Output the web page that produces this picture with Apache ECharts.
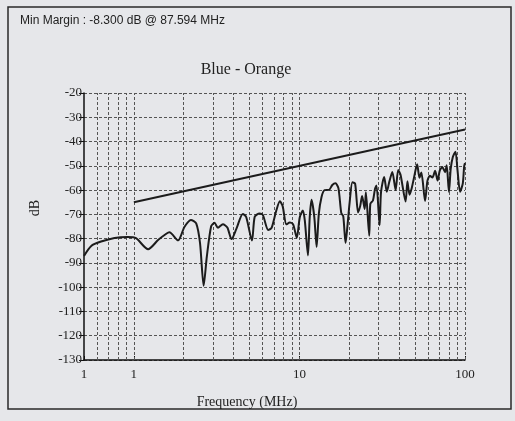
<!DOCTYPE html>
<html>
<head>
<meta charset="utf-8">
<script src="https://cdn.jsdelivr.net/npm/echarts@6/dist/echarts.min.js"></script>
<style>
html,body{margin:0;padding:0;background:#e6e7ea;}
#c{width:515px;height:421px;}
</style>
</head>
<body>
<div id="c"></div>
<script>
// Measured trace (Blue - Orange), frequency in MHz and level in dB
var freqMHz = [0.5, 0.553, 0.634, 0.764, 0.92, 1.03, 1.22, 1.40, 1.57, 1.64,
  1.85, 2.02, 2.21, 2.38, 2.51, 2.64, 2.76, 2.93, 3.07, 3.22,
  3.45, 3.67, 3.89, 4.16, 4.55, 4.77, 5.17, 5.37, 5.74, 6.01,
  6.48, 6.79, 7.23, 7.62, 7.92, 8.34, 8.75, 9.16, 9.64, 10.05,
  10.49, 10.78, 11.26, 11.54, 11.84, 12.3, 12.7, 13.1, 13.6, 14.2,
  15.1, 15.8, 16.5, 17.2, 17.9, 18.4, 19.0, 19.5, 20.1, 20.9,
  21.7, 22.6, 23.3, 23.9, 24.8, 25.2, 26.4, 26.8, 27.8, 28.6,
  29.2, 30.5, 31.1, 32.5, 33.7, 34.9, 36.4, 38.1, 39.5, 40.8,
  43.8, 44.9, 46.2, 47.7, 49.2, 51.4, 53.1, 54.5, 57.4, 59.3,
  61.3, 63.6, 66.0, 68.3, 70.4, 72.9, 75.8, 77.5, 80.0, 82.0,
  84.5, 87.6, 90.1, 93.4, 97.0, 98.8, 100];
var levelDB = [-87.1, -83.0, -81.2, -79.7, -79.3, -79.8, -84.4, -80.6, -78.0, -77.4,
  -80.7, -75.2, -72.3, -73.7, -81.8, -99.4, -87.3, -74.9, -73.5, -75.5,
  -74.1, -75.4, -80.2, -76.0, -69.8, -71.1, -80.8, -71.0, -69.6, -70.2,
  -76.4, -75.6, -68.7, -64.6, -66.6, -74.1, -73.4, -74.1, -79.6, -71.2,
  -68.4, -72.6, -86.9, -71.2, -64.0, -71.1, -83.4, -69.7, -62.8, -60.0,
  -59.9, -57.9, -57.2, -59.2, -69.5, -70.8, -81.8, -74.8, -65.2, -56.8,
  -57.4, -69.2, -66.5, -62.4, -67.8, -60.9, -78.8, -65.7, -64.3, -59.5,
  -58.1, -74.5, -60.8, -54.6, -60.7, -56.6, -52.5, -60.0, -51.7, -53.7,
  -64.7, -56.4, -61.9, -59.1, -54.9, -49.4, -54.9, -52.8, -64.5, -56.2,
  -54.1, -54.8, -52.0, -56.1, -52.0, -50.5, -52.6, -49.8, -60.8, -51.2,
  -46.3, -44.2, -51.8, -60.7, -57.2, -50.3, -48.9];
// Limit line
var limitFreqMHz = [1, 100];
var limitDB = [-65, -35];
// Vertical grid positions (MHz)
var gridFreqs = [0.6, 0.7, 0.8, 0.9, 1, 2, 3, 4, 5, 6, 7, 8, 9, 10,
  20, 30, 40, 50, 60, 70, 80, 90, 100];
var titleText = 'Blue - Orange';
var marginText = 'Min Margin : -8.300 dB @ 87.594 MHz';
var xName = 'Frequency (MHz)';
var yName = 'dB';

var serif = '"Liberation Serif","DejaVu Serif",serif';
var trace = freqMHz.map(function (f, i) { return [f, levelDB[i]]; });
var limit = limitFreqMHz.map(function (f, i) { return [f, limitDB[i]]; });

var chart = echarts.init(document.getElementById('c'), null, {renderer: 'canvas'});
chart.setOption({
  backgroundColor: '#e6e7ea',
  animation: false,
  grid: {left: 84, right: 50, top: 93, bottom: 61, containLabel: false},
  xAxis: {
    type: 'log', logBase: 10, min: 0.5, max: 100,
    axisLine: {show: true, lineStyle: {color: '#111', width: 1.5}},
    axisTick: {show: true, inside: true, length: 4, lineStyle: {color: '#111'}},
    axisLabel: {
      color: '#222', fontFamily: serif, fontSize: 13, margin: 8,
      showMinLabel: true, showMaxLabel: true,
      formatter: function (v) { return String(Math.round(v)); }
    },
    splitLine: {show: false},
    minorTick: {show: false}, minorSplitLine: {show: false}
  },
  yAxis: {
    type: 'value', min: -130, max: -20, interval: 10,
    axisLine: {show: true, lineStyle: {color: '#111', width: 1.5}},
    axisTick: {show: true, length: 5, lineStyle: {color: '#111'}},
    axisLabel: {color: '#222', fontFamily: serif, fontSize: 13, margin: 2},
    splitLine: {show: true, lineStyle: {color: '#555', width: 1, type: [3, 2]}}
  },
  series: [
    {
      type: 'line', data: trace, showSymbol: false, smooth: 0.25,
      lineStyle: {color: '#1c1c1c', width: 2}, z: 5,
      markLine: {
        silent: true, symbol: 'none', animation: false,
        label: {show: false},
        lineStyle: {color: '#555', width: 1, type: [3, 2]},
        data: gridFreqs.map(function (f) { return {xAxis: f}; })
      }
    },
    {
      type: 'line', data: limit, showSymbol: false,
      lineStyle: {color: '#1c1c1c', width: 2}, z: 5
    }
  ],
  graphic: [
    {type: 'rect', shape: {x: 8, y: 7, width: 503, height: 402},
     style: {fill: 'none', stroke: '#2a2a2a', lineWidth: 1.5}, silent: true},
    {type: 'text', left: 20, top: 15,
     style: {text: marginText, font: '12px "Liberation Sans", Arial, sans-serif', fill: '#222'}},
    {type: 'text', x: 246, y: 70,
     style: {text: titleText, font: '16px ' + serif, fill: '#222', align: 'center', verticalAlign: 'middle'}},
    {type: 'text', x: 247, y: 402,
     style: {text: xName, font: '14px ' + serif, fill: '#222', align: 'center', verticalAlign: 'middle'}},
    {type: 'text', x: 35, y: 208, rotation: Math.PI / 2,
     style: {text: yName, font: '14px ' + serif, fill: '#222', align: 'center', verticalAlign: 'middle'}}
  ]
});
</script>
</body>
</html>
